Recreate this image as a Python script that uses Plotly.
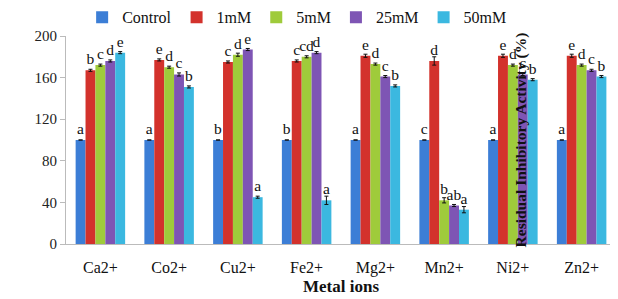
import plotly.graph_objects as go

metals = ["Ca2+", "Co2+", "Cu2+", "Fe2+", "Mg2+", "Mn2+", "Ni2+", "Zn2+"]
series_names = ["Control", "1mM", "5mM", "25mM", "50mM"]

control = [100, 100, 100, 100, 100, 100, 100, 100]
mm1 = [167, 177, 175, 176, 181, 176, 181, 181]
mm5 = [172, 170, 182, 180, 173, 42, 172, 172]
mm25 = [176, 163, 187, 184, 161, 37, 163, 167]
mm50 = [184, 151, 45, 42, 152, 33, 158, 161]

err_control = [0, 0, 0, 0, 0, 0, 0, 0]
err_1 = [1, 1, 1, 1, 1.5, 4, 1.5, 1.5]
err_5 = [1, 1, 1.5, 1, 1, 2.5, 1, 1]
err_25 = [1, 1.5, 1, 1, 1, 1, 1, 1]
err_50 = [1, 1, 1, 4, 1, 3, 1, 1]

lab_control = ["a", "a", "b", "b", "a", "c", "a", "a"]
lab_1 = ["b", "e", "c", "c", "e", "d", "e", "e"]
lab_5 = ["c", "d", "d", "cd", "d", "b", "d", "d"]
lab_25 = ["d", "c", "e", "d", "c", "ab", "c", "c"]
lab_50 = ["e", "b", "a", "a", "b", "a", "b", "b"]

colors = ["#3C7ED6", "#D3322C", "#9FCB3B", "#7E55B4", "#3BB8E0"]

values = [control, mm1, mm5, mm25, mm50]
errors = [err_control, err_1, err_5, err_25, err_50]
labels = [lab_control, lab_1, lab_5, lab_25, lab_50]

serif = "Times New Roman, Liberation Serif, serif"

fig = go.Figure()
for name, vals, errs, labs, col in zip(series_names, values, errors, labels, colors):
    fig.add_trace(go.Bar(
        name=name, x=metals, y=vals,
        marker=dict(color=col, line=dict(width=0)),
        error_y=dict(type="data", array=errs, visible=True, color="#111111", thickness=1, width=2),
        text=labs, textposition="outside", constraintext="none",
        textfont=dict(family=serif, size=15.5, color="#111111"),
        cliponaxis=False,
    ))

# the page adds an 8px body margin, so the figure is sized to fit the 618x299 window
fig.update_layout(
    width=610, height=291,
    margin=dict(l=58, r=2, t=28, b=55, autoexpand=False),
    barmode="group", bargap=0.28, bargroupgap=0,
    plot_bgcolor="white", paper_bgcolor="white",
    font=dict(family=serif, color="#111111"),
    showlegend=True,
    legend=dict(orientation="h", x=0.474, xref="container", xanchor="center",
                y=1.09, yref="paper", yanchor="middle",
                font=dict(family=serif, size=16, color="#111111"), itemwidth=30,
                bgcolor="rgba(0,0,0,0)"),
)
fig.update_xaxes(
    automargin=False,
    showline=True, linecolor="#BBBBBB", linewidth=1,
    ticks="outside", ticklen=9, tickcolor="rgba(0,0,0,0)",
    tickfont=dict(family=serif, size=16, color="#111111"),
    title=dict(text="<b>Metal ions</b>", font=dict(family=serif, size=17, color="#111111"), standoff=1),
)
fig.update_yaxes(
    automargin=False,
    range=[0, 200], tickvals=[0, 40, 80, 120, 160, 200],
    showgrid=False, zeroline=False,
    showline=True, linecolor="#BBBBBB", linewidth=1, ticks="outside", ticklen=5, tickcolor="#BBBBBB",
    tickfont=dict(family=serif, size=15, color="#222222"),
    title=dict(text="<b>Residual Inhibitory Activity (%)</b>", font=dict(family=serif, size=15.5, color="#111111"), standoff=4),
)

fig.write_html("out.html", config={"displayModeBar": False})
